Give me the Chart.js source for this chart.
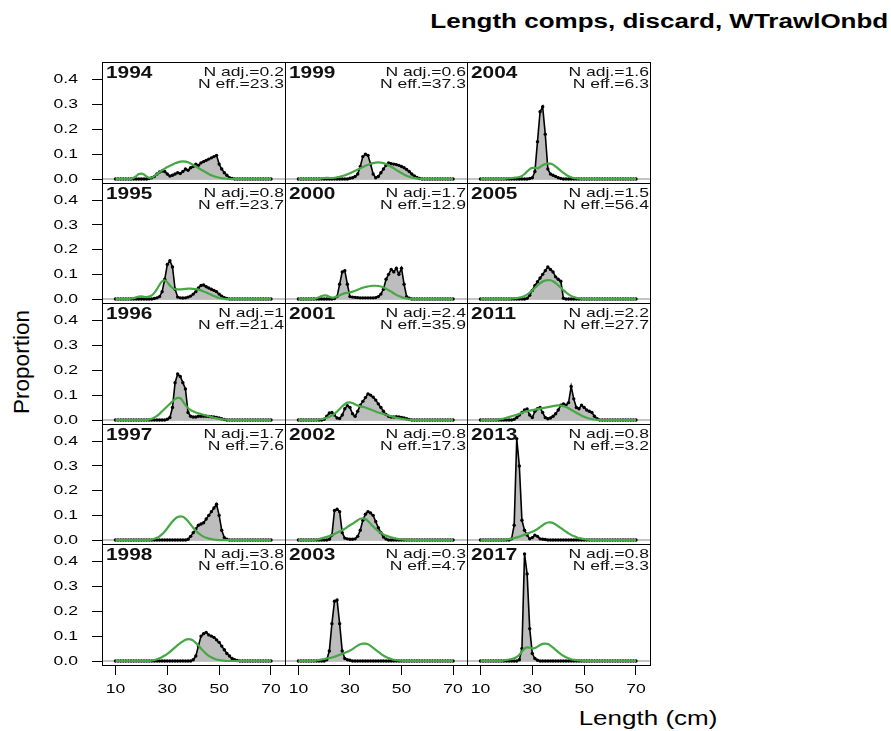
<!DOCTYPE html>
<html>
<head>
<meta charset="utf-8">
<script src="https://cdn.jsdelivr.net/npm/chart.js@4.4.1/dist/chart.umd.min.js"></script>
<style>
  body { margin:0; background:#fff; width:891px; height:731px; position:relative; overflow:hidden;
         font-family:"Liberation Sans", Arial, sans-serif; color:#000; }
  .box { position:absolute; }
  .lbl { position:absolute; white-space:nowrap; }
  #title { right:3px; top:10px; font-weight:bold; font-size:20px; transform-origin:right center; transform:scaleX(1.3); }
  #ylab { left:22px; top:362px; font-size:22.5px; transform:translate(-50%,-50%) rotate(-90deg); }
  #xlab { left:648px; top:718px; font-size:20px; transform:translate(-50%,-50%) scaleX(1.3); }
</style>
</head>
<body>
<div id="title" class="lbl">Length comps, discard, WTrawlOnbd</div>
<div id="ylab" class="lbl">Proportion</div>
<div id="xlab" class="lbl">Length (cm)</div>
<script>
// length bins (cm)
const lengthBins = [10,11,12,13,14,15,16,17,18,19,20,21,22,23,24,25,26,27,28,29,30,31,32,33,34,35,36,37,38,39,
  40,41,42,43,44,45,46,47,48,49,50,51,52,53,54,55,56,57,58,59,60,61,62,63,64,65,66,67,68,69,70];
const xTicks = [10,30,50,70];
const yTicks = [0,0.1,0.2,0.3,0.4];

// panels, row by row
const years = ['1994','1999','2004','1995','2000','2005','1996','2001','2011','1997','2002','2013','1998','2003','2017'];
const nAdj = ['0.2','0.6','1.6','0.8','1.7','1.5','1','2.4','2.2','1.7','0.8','0.8','3.8','0.3','0.8'];
const nEff = ['23.3','37.3','6.3','23.7','12.9','56.4','21.4','35.9','27.7','7.6','17.3','3.2','10.6','4.7','3.3'];

// observed proportions, bins 10..70
const obs1994 = [0,0,0,0,0,0,0,0,0,0,
  0,0,0,.002,.005,.01,.02,.028,.032,.03,
  .02,.012,.015,.02,.025,.022,.03,.04,.035,.045,
  .05,.06,.055,.065,.07,.075,.08,.085,.09,.095,
  .06,.04,.025,.015,.005,.002,0,0,0,0,
  0,0,0,0,0,0,0,0,0,0,0];
const obs1999 = [0,0,0,0,0,0,0,0,0,0,
  0,0,0,0,0,0,0,0,0,0,
  .003,.005,.01,.02,.05,.09,.1,.095,.06,.02,
  .005,.01,.025,.04,.055,.065,.062,.06,.058,.055,
  .05,.045,.038,.03,.02,.012,.006,.002,0,0,
  0,0,0,0,0,0,0,0,0,0,0];
const obs2004 = [0,0,0,0,0,0,0,0,0,0,
  0,0,0,0,0,0,0,0,0,.002,
  .005,.03,.15,.27,.29,.18,.04,.02,.015,.01,
  .005,.002,0,0,0,0,0,0,0,0,
  0,0,0,0,0,0,0,0,0,0,
  0,0,0,0,0,0,0,0,0,0,0];
const obs1995 = [0,0,0,0,0,0,0,0,0,0,
  0,0,0,0,0,.002,.005,.01,.03,.08,
  .14,.155,.13,.04,.008,.005,.004,.005,.008,.012,
  .02,.03,.045,.055,.057,.05,.045,.04,.035,.03,
  .02,.012,.006,.002,0,0,0,0,0,0,
  0,0,0,0,0,0,0,0,0,0,0];
const obs2000 = [0,0,0,0,0,0,0,0,0,0,
  0,0,0,0,.002,.01,.06,.11,.115,.06,
  .01,.008,.007,.006,.005,.005,.005,.005,.005,.005,
  .006,.01,.02,.04,.08,.1,.12,.11,.125,.1,
  .125,.06,.01,.003,0,0,0,0,0,0,
  0,0,0,0,0,0,0,0,0,0,0];
const obs2005 = [0,0,0,0,0,0,0,0,0,0,
  0,0,0,0,0,0,0,0,.003,.015,
  .035,.055,.07,.085,.1,.115,.13,.12,.11,.09,
  .08,.072,.003,0,0,0,0,0,0,0,
  0,0,0,0,0,0,0,0,0,0,
  0,0,0,0,0,0,0,0,0,0,0];
const obs1996 = [0,0,0,0,0,0,0,0,0,0,
  0,0,0,0,0,0,0,0,0,0,
  .003,.01,.05,.15,.185,.175,.15,.125,.03,.015,
  .012,.012,.015,.015,.015,.015,.014,.013,.012,.01,
  .008,.005,.002,0,0,0,0,0,0,0,
  0,0,0,0,0,0,0,0,0,0,0];
const obs2001 = [0,0,0,0,0,0,0,0,0,0,
  .003,.015,.028,.03,.02,.008,.006,.02,.045,.058,
  .05,.025,.015,.035,.06,.075,.09,.105,.1,.092,
  .08,.065,.05,.035,.022,.015,.012,.012,.013,.012,
  .01,.008,.005,.002,0,0,0,0,0,0,
  0,0,0,0,0,0,0,0,0,0,0];
const obs2011 = [0,0,0,0,0,0,0,0,0,0,
  0,0,0,.003,.01,.02,.03,.04,.044,.02,
  .01,.035,.045,.05,.03,.01,.005,.008,.015,.025,
  .04,.06,.065,.06,.07,.135,.085,.05,.045,.06,
  .05,.04,.035,.03,.015,.005,0,0,0,0,
  0,0,0,0,0,0,0,0,0,0,0];
const obs1997 = [0,0,0,0,0,0,0,0,0,0,
  0,0,0,0,0,0,0,0,0,0,
  0,0,0,0,0,0,0,0,.003,.015,
  .03,.045,.06,.065,.07,.085,.1,.115,.13,.145,
  .1,.04,.01,.003,0,0,0,0,0,0,
  0,0,0,0,0,0,0,0,0,0,0];
const obs2002 = [0,0,0,0,0,0,0,0,0,0,
  0,0,.003,.02,.12,.125,.115,.03,.008,.005,
  .003,.003,.005,.015,.04,.08,.105,.115,.11,.1,
  .075,.05,.03,.012,.004,0,0,0,0,0,
  0,0,0,0,0,0,0,0,0,0,
  0,0,0,0,0,0,0,0,0,0,0];
const obs2013 = [0,0,0,0,0,0,0,0,0,0,
  0,0,.005,.06,.41,.3,.08,.04,.02,.005,
  .01,.02,.015,.005,.003,.002,0,0,0,0,
  0,0,0,0,0,0,0,0,0,0,
  0,0,0,0,0,0,0,0,0,0,
  0,0,0,0,0,0,0,0,0,0,0];
const obs1998 = [0,0,0,0,0,0,0,0,0,0,
  0,0,0,0,0,0,0,0,0,0,
  0,0,0,0,0,0,0,0,0,0,
  .005,.02,.06,.1,.11,.115,.105,.1,.095,.085,
  .075,.06,.045,.03,.02,.01,.005,.002,0,0,
  0,0,0,0,0,0,0,0,0,0,0];
const obs2003 = [0,0,0,0,0,0,0,0,0,0,
  0,.005,.04,.15,.24,.245,.15,.04,.01,.005,
  .003,0,0,0,0,0,0,0,0,0,
  0,0,0,0,0,0,0,0,0,0,
  0,0,0,0,0,0,0,0,0,0,
  0,0,0,0,0,0,0,0,0,0,0];
const obs2017 = [0,0,0,0,0,0,0,0,0,0,
  0,0,0,0,0,.005,.05,.43,.35,.13,
  .03,.01,.003,0,0,0,0,0,0,0,
  0,0,0,0,0,0,0,0,0,0,
  0,0,0,0,0,0,0,0,0,0,
  0,0,0,0,0,0,0,0,0,0,0];

// expected proportions, bins 10..70
const exp1994 = [0,0,0,0,0,0,0,.005,.012,.02,
  .022,.018,.01,.005,.006,.012,.02,.028,.035,.042,
  .048,.053,.058,.063,.067,.07,.071,.07,.067,.062,
  .056,.05,.044,.038,.032,.026,.02,.015,.011,.008,
  .005,.003,.002,.001,0,0,0,0,0,0,
  0,0,0,0,0,0,0,0,0,0,0];
const exp1999 = [0,0,0,0,0,0,0,0,0,.002,
  .004,.005,.004,.004,.005,.007,.009,.012,.015,.019,
  .023,.028,.033,.038,.043,.048,.053,.057,.061,.064,
  .066,.067,.066,.064,.06,.055,.049,.043,.036,.03,
  .024,.018,.013,.009,.006,.004,.002,.001,0,0,
  0,0,0,0,0,0,0,0,0,0,0];
const exp2004 = [0,0,0,0,0,0,0,0,0,0,
  .002,.003,.004,.005,.006,.008,.012,.02,.03,.04,
  .045,.045,.043,.048,.055,.06,.062,.062,.058,.05,
  .042,.033,.025,.017,.011,.007,.004,.002,.001,0,
  0,0,0,0,0,0,0,0,0,0,
  0,0,0,0,0,0,0,0,0,0,0];
const exp1995 = [0,0,0,0,0,0,.002,.004,.007,.01,
  .011,.009,.008,.01,.015,.025,.04,.058,.072,.076,
  .068,.055,.045,.04,.039,.039,.04,.041,.042,.042,
  .041,.04,.038,.035,.031,.027,.022,.017,.012,.008,
  .005,.003,.001,0,0,0,0,0,0,0,
  0,0,0,0,0,0,0,0,0,0,0];
const exp2000 = [0,0,0,0,0,0,0,.003,.007,.012,
  .015,.014,.009,.006,.007,.01,.015,.02,.024,.025,
  .027,.03,.034,.038,.042,.046,.049,.051,.053,.054,
  .054,.053,.051,.047,.042,.036,.03,.023,.017,.012,
  .008,.005,.003,.001,0,0,0,0,0,0,
  0,0,0,0,0,0,0,0,0,0,0];
const exp2005 = [0,0,0,0,0,0,0,0,0,0,
  0,0,.002,.003,.004,.006,.008,.012,.018,.026,
  .035,.045,.055,.064,.071,.075,.077,.076,.072,.065,
  .056,.046,.036,.027,.019,.013,.008,.005,.003,.001,
  0,0,0,0,0,0,0,0,0,0,
  0,0,0,0,0,0,0,0,0,0,0];
const exp1996 = [0,0,0,0,0,0,0,0,0,0,
  0,0,0,.002,.005,.01,.017,.025,.035,.045,
  .055,.065,.075,.084,.089,.088,.075,.06,.048,.04,
  .035,.03,.027,.024,.021,.018,.015,.012,.009,.007,
  .005,.003,.002,.001,0,0,0,0,0,0,
  0,0,0,0,0,0,0,0,0,0,0];
const exp2001 = [0,0,0,0,0,0,0,0,.002,.004,
  .006,.009,.013,.018,.025,.034,.044,.055,.064,.07,
  .071,.068,.063,.058,.055,.053,.05,.046,.042,.038,
  .034,.03,.027,.024,.021,.018,.015,.012,.009,.007,
  .005,.003,.002,.001,0,0,0,0,0,0,
  0,0,0,0,0,0,0,0,0,0,0];
const exp2011 = [0,0,0,0,0,0,0,.002,.004,.006,
  .009,.012,.015,.018,.021,.025,.029,.033,.036,.038,
  .04,.042,.044,.046,.048,.05,.052,.054,.056,.058,
  .059,.058,.056,.052,.047,.041,.035,.029,.023,.018,
  .013,.009,.006,.004,.002,.001,0,0,0,0,
  0,0,0,0,0,0,0,0,0,0,0];
const exp1997 = [0,0,0,0,0,0,0,0,0,0,
  0,0,0,0,.002,.005,.009,.015,.024,.035,
  .048,.062,.075,.086,.093,.096,.094,.087,.076,.063,
  .05,.038,.028,.02,.014,.009,.006,.004,.002,.001,
  0,0,0,0,0,0,0,0,0,0,
  0,0,0,0,0,0,0,0,0,0,0];
const exp2002 = [0,0,0,0,0,0,0,.002,.004,.007,
  .01,.013,.016,.02,.025,.03,.035,.04,.046,.053,
  .06,.066,.073,.08,.086,.088,.085,.077,.066,.055,
  .045,.036,.029,.023,.018,.014,.011,.008,.006,.004,
  .003,.002,.001,0,0,0,0,0,0,0,
  0,0,0,0,0,0,0,0,0,0,0];
const exp2013 = [0,0,0,0,0,0,0,0,0,0,
  .002,.004,.006,.008,.011,.014,.018,.022,.026,.03,
  .034,.039,.045,.052,.06,.067,.071,.072,.069,.063,
  .056,.049,.041,.034,.027,.021,.016,.012,.008,.006,
  .004,.002,.001,0,0,0,0,0,0,0,
  0,0,0,0,0,0,0,0,0,0,0];
const exp1998 = [0,0,0,0,0,0,0,0,0,0,
  0,0,0,0,.002,.004,.007,.011,.016,.022,
  .029,.037,.046,.055,.064,.072,.079,.085,.088,.087,
  .082,.073,.062,.05,.039,.029,.021,.015,.01,.006,
  .004,.002,.001,0,0,0,0,0,0,0,
  0,0,0,0,0,0,0,0,0,0,0];
const exp2003 = [0,0,0,0,0,0,0,.002,.004,.006,
  .008,.01,.012,.014,.017,.021,.025,.029,.033,.037,
  .042,.048,.055,.062,.067,.07,.07,.067,.061,.053,
  .045,.037,.029,.022,.016,.012,.008,.005,.003,.002,
  .001,0,0,0,0,0,0,0,0,0,
  0,0,0,0,0,0,0,0,0,0,0];
const exp2017 = [0,0,0,0,0,0,0,0,0,.002,
  .004,.006,.008,.011,.016,.025,.038,.05,.055,.054,
  .05,.052,.058,.064,.069,.07,.068,.062,.054,.045,
  .036,.028,.021,.015,.011,.007,.005,.003,.002,.001,
  0,0,0,0,0,0,0,0,0,0,
  0,0,0,0,0,0,0,0,0,0,0];

const obsList = [obs1994,obs1999,obs2004,obs1995,obs2000,obs2005,obs1996,obs2001,obs2011,obs1997,obs2002,obs2013,obs1998,obs2003,obs2017];
const expList = [exp1994,exp1999,exp2004,exp1995,exp2000,exp2005,exp1996,exp2001,exp2011,exp1997,exp2002,exp2013,exp1998,exp2003,exp2017];

// panel layout on the page
const colEdges = [102,285,467,650];
const rowEdges = [62,183,303,424,544,665];
const yAxisW = 60, xAxisH = 42;
const txtStretch = 1.3;

// draws text stretched horizontally, like the rest of the figure
function wideText(ctx, txt, x, y, align) {
  ctx.save();
  ctx.translate(x, y);
  ctx.scale(txtStretch, 1);
  ctx.textAlign = align;
  ctx.fillText(txt, 0, 0);
  ctx.restore();
}

const panelDeco = {
  id: 'panelDeco',
  beforeDatasetsDraw(chart, args, o) {
    const {ctx, chartArea: a, scales: {y}} = chart;
    const y0 = y.getPixelForValue(0);
    ctx.save();
    ctx.strokeStyle = '#c4c4c4';
    ctx.lineWidth = 2;
    ctx.beginPath(); ctx.moveTo(a.left, y0); ctx.lineTo(a.right, y0); ctx.stroke();
    ctx.restore();
  },
  afterDraw(chart, args, o) {
    const {ctx, chartArea: a, scales: {x, y}} = chart;
    ctx.save();
    ctx.strokeStyle = '#000'; ctx.lineWidth = 1;
    ctx.strokeRect(a.left + 0.5, a.top + 0.5, a.right - a.left - 1, a.bottom - a.top - 1);
    ctx.fillStyle = '#111';
    ctx.textBaseline = 'middle';
    ctx.font = 'bold 16px "Liberation Sans", Arial';
    wideText(ctx, o.year, a.left + 4, a.top + 12, 'left');
    ctx.font = '13.5px "Liberation Sans", Arial';
    wideText(ctx, 'N adj.=' + o.nAdj, a.right - 2, a.top + 10, 'right');
    wideText(ctx, 'N eff.=' + o.nEff, a.right - 2, a.top + 22, 'right');
    // tick labels
    ctx.fillStyle = '#000';
    ctx.font = '13.5px "Liberation Sans", Arial';
    if (o.left) yTicks.forEach(v => wideText(ctx, v.toFixed(1), a.left - 24, y.getPixelForValue(v), 'right'));
    if (o.bottom) xTicks.forEach(v => wideText(ctx, String(v), x.getPixelForValue(v), a.bottom + 23, 'center'));
    ctx.restore();
  }
};

for (let i = 0; i < years.length; i++) {
  const r = Math.floor(i / 3), c = i % 3;
  const isLeft = c == 0, isBottom = r == 4;
  const w = colEdges[c+1] - colEdges[c] + 1;
  const h = rowEdges[r+1] - rowEdges[r] + 1;
  const cw = w + (isLeft ? yAxisW : 0);
  const ch = h + (isBottom ? xAxisH : 0);
  const box = document.createElement('div');
  box.className = 'box';
  box.style.left = (colEdges[c] - (isLeft ? yAxisW : 0)) + 'px';
  box.style.top = rowEdges[r] + 'px';
  box.style.width = cw + 'px';
  box.style.height = ch + 'px';
  const cv = document.createElement('canvas');
  cv.width = cw; cv.height = ch;
  cv.style.width = cw + 'px'; cv.style.height = ch + 'px';
  box.appendChild(cv);
  document.body.appendChild(box);

  const expPts = expList[i].map((v, k) => ({x: lengthBins[k], y: v}));
  const obsPts = obsList[i].map((v, k) => ({x: lengthBins[k], y: v}));

  new Chart(cv, {
    type: 'line',
    data: {
      datasets: [
        { data: expPts, borderColor: '#45a845', borderWidth: 2.2, pointRadius: 0, fill: false,
          cubicInterpolationMode: 'monotone' },
        { data: obsPts, borderColor: '#000', borderWidth: 1.6, pointRadius: 1.7, pointBackgroundColor: '#000',
          pointBorderWidth: 0, backgroundColor: '#bdbdbd', fill: 'origin', tension: 0 }
      ]
    },
    options: {
      responsive: false, maintainAspectRatio: false, animation: false, events: [],
      layout: { padding: 0, autoPadding: false },
      plugins: { legend: {display: false}, tooltip: {enabled: false},
        panelDeco: { year: years[i], nAdj: nAdj[i], nEff: nEff[i], left: isLeft, bottom: isBottom } },
      scales: {
        x: {
          type: 'linear', min: 4.8, max: 75.8, display: isBottom,
          afterFit(s) { if (isBottom) { s.height = xAxisH; s.paddingLeft = 0; s.paddingRight = 0; } },
          afterBuildTicks(s) { s.ticks = xTicks.map(v => ({value: v})); },
          grid: { drawOnChartArea: false, drawTicks: true, tickLength: 9, color: '#000' },
          border: { display: false },
          ticks: { display: false }
        },
        y: {
          min: -0.02, max: 0.47, display: isLeft,
          afterFit(s) { if (isLeft) { s.width = yAxisW; s.paddingTop = 0; s.paddingBottom = 0; } },
          afterBuildTicks(s) { s.ticks = yTicks.map(v => ({value: v})); },
          grid: { drawOnChartArea: false, drawTicks: true, tickLength: 10, color: '#000' },
          border: { display: false },
          ticks: { display: false }
        }
      }
    },
    plugins: [panelDeco]
  });
}
</script>
</body>
</html>
